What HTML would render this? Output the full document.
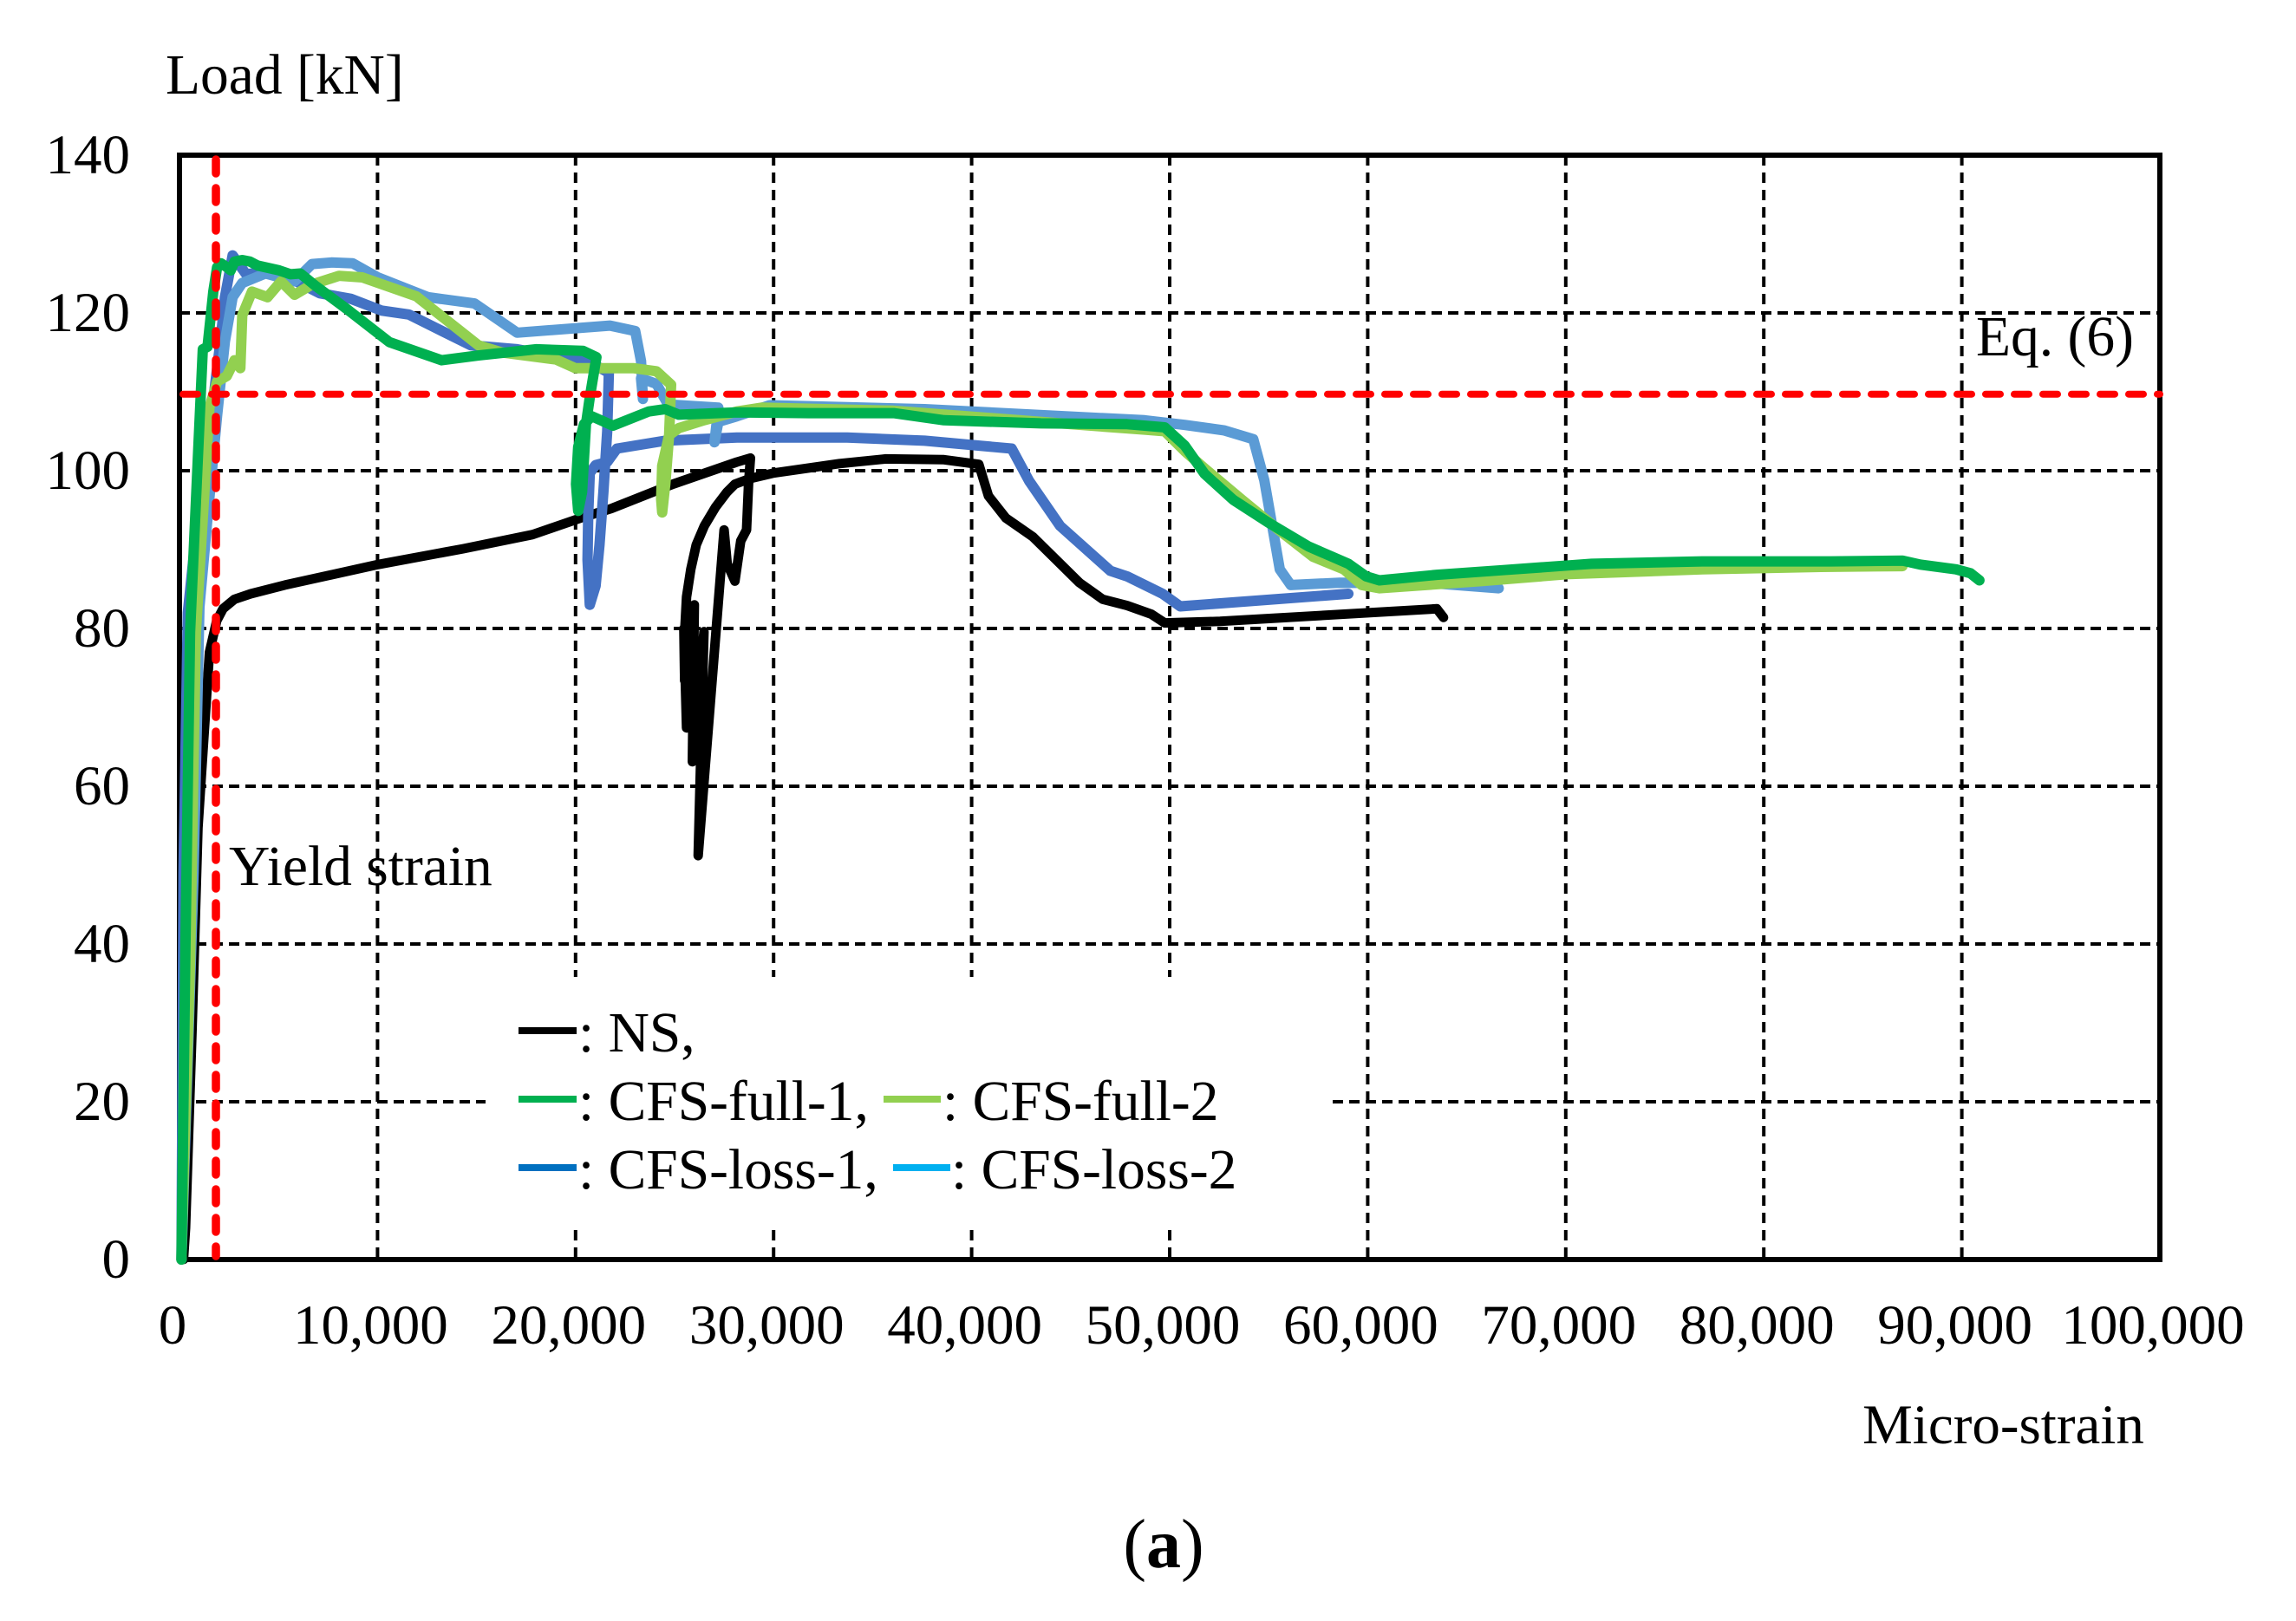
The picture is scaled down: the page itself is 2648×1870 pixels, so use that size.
<!DOCTYPE html>
<html lang="en">
<head>
<meta charset="utf-8">
<title>Load versus micro-strain chart</title>
<style>
html,body{margin:0;padding:0;background:#fff;}
svg{display:block;}
text{font-family:"Liberation Serif",serif;fill:#000;}
</style>
</head>
<body>
<svg id="chart" xmlns="http://www.w3.org/2000/svg" width="2648" height="1870" viewBox="0 0 2648 1870">
<rect x="0" y="0" width="2648" height="1870" fill="#fff"/>
<g id="grid"></g>
<rect x="560" y="1127" width="975" height="285" fill="#fff"/>
<rect x="207" y="179" width="2284" height="1274" fill="none" stroke="#000" stroke-width="6"/>
<g id="series"></g>
<g id="refs"></g>
<g id="ticks"></g>
<text x="191" y="108" font-size="65.5">Load [kN]</text>
<text x="2148" y="1665" font-size="65">Micro-strain</text>
<text x="264" y="1021" font-size="65.5">Yield strain</text>
<text x="2279" y="410" font-size="65.5">Eq. (6)</text>
<text x="1342" y="1808" font-size="80" text-anchor="middle">(<tspan font-weight="bold">a</tspan>)</text>
<g>
<rect x="598" y="1185" width="67" height="8" fill="#000"/>
<text x="667" y="1213" font-size="65.5">: NS,</text>
<rect x="598" y="1264" width="67" height="8" fill="#00B050"/>
<text x="667" y="1292" font-size="65.5">: CFS-full-1,</text>
<rect x="1019" y="1264" width="66" height="8" fill="#92D050"/>
<text x="1087" y="1292" font-size="65.5">: CFS-full-2</text>
<rect x="598" y="1343" width="67" height="8" fill="#0070C0"/>
<text x="667" y="1371" font-size="65.5">: CFS-loss-1,</text>
<rect x="1030" y="1343" width="66" height="8" fill="#00B0F0"/>
<text x="1097" y="1371" font-size="65.5">: CFS-loss-2</text>
</g>
</svg>
<script>
const xTicks = [0,10000,20000,30000,40000,50000,60000,70000,80000,90000,100000];
const xTickLabels = ['0','10,000','20,000','30,000','40,000','50,000','60,000','70,000','80,000','90,000','100,000'];
const yTicks = [0,20,40,60,80,100,120,140];
const yTickLabels = ['0','20','40','60','80','100','120','140'];
const yieldStrain = 1840;
const eq6Load = 109.7;

const nsStrain = [200,305,641,933,1224,1516,1881,2200,2781,3600,5322,10013,14312,17831,20372,21795,24922,28150,28831,28733,28636,28342,28049,27658,27502,26192,26486,25899,25997,25606,25469,25508,25500,25606,25820,26095,26500,27072,27650,28049,28800,30004,33326,35672,38603,40362,40851,41731,43099,45444,46617,47852,49081,49751,52543,63490,63825];
const nsLoad = [0,4,29.5,54.7,66,77,81,82.5,83.7,84.4,85.5,88.1,90.1,91.9,94.1,95.2,98.3,101.1,101.6,98.3,92.5,91.1,86,88.2,92.5,51.2,79.6,63.1,83,67.4,80,73.4,79,84,87.5,90.6,93,95.4,97.3,98.3,99,99.7,100.9,101.5,101.4,100.8,96.8,94,91.6,85.8,83.7,82.9,81.8,80.7,80.9,82.5,81.4];

const full1Strain = [100,300,534,924,1178,1413,1706,1900,2097,2390,2586,2781,3172,3563,3954,5029,5615,6104,6886,8449,10600,13237,15094,18026,20372,21056,20720,20524,20329,20133,20020,20133,20426,20817,21892,23695,24531,25215,28150,31763,36062,38604,43490,47852,49751,50756,51761,53214,55001,57011,59022,59916,60586,63490,66841,70192,71309,76894,83381,87000,87904,89713,90436,90888];
const full1Load = [0,40,79.5,101.4,115.4,115.7,122.7,125.8,126.3,125.8,125.4,126.5,126.7,126.5,126,125.4,124.9,125,123.4,120.5,116.3,114,114.6,115.4,115.2,114.4,109.3,105.9,97.3,94.9,98.3,103,105.9,106.9,105.7,107.5,107.8,107.1,107.4,107.3,107.3,106.4,106,105.9,105.5,103.2,99.6,96.3,93.4,90.4,88.2,86.6,86.1,86.8,87.4,88,88.2,88.5,88.5,88.6,88.1,87.5,87,86.1];

const full2Strain = [100,130,539,827,1315,1510,1902,2390,2781,3074,3172,3661,4442,5127,5810,6690,8058,9231,11967,15094,16267,19004,19981,22912,24084,24824,24726,24531,24375,24320,24375,24726,25215,26485,28150,29417,36063,48728,49751,50756,51761,53660,55447,57235,58798,59692,60586,65724,70192,76894,82881,87000];
const full2Load = [0,4,38,79.5,99.6,108,111.3,112,114,113,119.7,122.7,122,124,122.3,123.6,124.7,124.5,122.1,115.9,115,114.1,113,113,112.6,110.9,104.5,98.3,94.7,96.4,100.6,104.5,105.4,106.4,107.5,108,107.6,105.2,105,102.5,100.3,96.3,92.6,89.1,87.5,85.5,85.1,86,86.9,87.5,87.8,87.9];

const loss1Strain = [100,203,422,1000,1510,2097,2293,2683,3367,4247,5908,7081,8645,10208,11576,14704,17049,20763,21680,21599,21404,21208,21013,20720,20606,20640,20720,21013,21599,22088,24531,28150,33717,37626,42024,42903,44467,47008,47852,49639,50533,59022];
const loss1Load = [0,49,82,96,105,117,122,127.3,124.9,125.2,124,122.5,121.8,120.3,119.8,115.9,115.4,113.7,112.4,105,97.3,90.6,85.4,83,88.7,94.4,99.7,100.7,101.1,102.8,103.8,104.2,104.2,103.8,102.8,98.7,93,87.3,86.6,84.4,82.8,84.4];

const loss2Strain = [100,714,1006,1413,1902,2293,2683,3172,4345,5810,6690,7667,8742,10012,12553,14899,17049,21740,23011,23304,23402,23304,24084,24672,27211,27016,27211,28150,29808,37626,48728,50756,52767,54219,54777,55559,56118,58575,63490,66617];
const loss2Load = [0,49,82.7,94,107,116.4,122,123.8,125,124,126.2,126.4,126.3,124.5,122,121.2,117.5,118.4,117.7,113.9,109.1,111.7,111,108.4,108,103.6,106.2,106.9,108.3,107.8,106.4,105.8,105.1,104,98.8,87.5,85.5,85.8,85.7,85.1];

const NS = 'http://www.w3.org/2000/svg';
const plotLeft = 207, plotRight = 2491, plotTop = 179, plotBottom = 1453;
const xMax = 100000, yMax = 140;
function xScale(v){ return plotLeft + (v / xMax) * (plotRight - plotLeft); }
function yScale(v){ return plotBottom - (v / yMax) * (plotBottom - plotTop); }
function make(tag, parent){
  const el = document.createElementNS(NS, tag);
  parent.appendChild(el);
  return el;
}
const gridGroup = document.getElementById('grid');
const tickGroup = document.getElementById('ticks');
const seriesGroup = document.getElementById('series');
const refGroup = document.getElementById('refs');

xTicks.forEach(function(t, i){
  if (t > 0 && t < xMax) {
    const g = make('line', gridGroup);
    
    
    g.setAttribute('x1', xScale(t)); g.setAttribute('x2', xScale(t));
    g.setAttribute('y1', plotTop); g.setAttribute('y2', plotBottom);
    g.setAttribute('stroke', '#000'); g.setAttribute('stroke-width', '4');
    g.setAttribute('stroke-dasharray', '12 8');
  }
  const l = make('text', tickGroup);
  
  
  l.setAttribute('x', xScale(t) - 8);
  l.setAttribute('y', 1550);
  l.setAttribute('font-size', '65');
  l.setAttribute('text-anchor', 'middle');
  l.textContent = xTickLabels[i];
});
yTicks.forEach(function(t, i){
  if (t > 0 && t < yMax) {
    const g = make('line', gridGroup);
    
    
    g.setAttribute('x1', plotLeft); g.setAttribute('x2', plotRight);
    g.setAttribute('y1', yScale(t)); g.setAttribute('y2', yScale(t));
    g.setAttribute('stroke', '#000'); g.setAttribute('stroke-width', '4');
    g.setAttribute('stroke-dasharray', '12 7');
  }
  const l = make('text', tickGroup);
  
  
  l.setAttribute('x', 150);
  l.setAttribute('y', yScale(t) + 21);
  l.setAttribute('font-size', '65');
  l.setAttribute('text-anchor', 'end');
  l.textContent = yTickLabels[i];
});

function drawSeries(name, xs, ys, color, width){
  const p = make('polyline', seriesGroup);
  
  
  p.setAttribute('points', xs.map(function(x, i){ return xScale(x).toFixed(1) + ',' + yScale(ys[i]).toFixed(1); }).join(' '));
  p.setAttribute('fill', 'none');
  p.setAttribute('stroke', color);
  p.setAttribute('stroke-width', width);
  p.setAttribute('stroke-linejoin', 'round');
  p.setAttribute('stroke-linecap', 'round');
}
drawSeries('series-ns', nsStrain, nsLoad, '#000000', 11);
drawSeries('series-cfs-loss-1', loss1Strain, loss1Load, '#4472C4', 12);
drawSeries('series-cfs-loss-2', loss2Strain, loss2Load, '#5B9BD5', 12);
drawSeries('series-cfs-full-2', full2Strain, full2Load, '#92D050', 12);
drawSeries('series-cfs-full-1', full1Strain, full1Load, '#00B050', 12);

const hRef = make('line', refGroup);


hRef.setAttribute('x1', plotLeft + 4); hRef.setAttribute('x2', plotRight);
hRef.setAttribute('y1', yScale(eq6Load)); hRef.setAttribute('y2', yScale(eq6Load));
hRef.setAttribute('stroke', '#FF0000'); hRef.setAttribute('stroke-width', '8');
hRef.setAttribute('stroke-linecap', 'round'); hRef.setAttribute('stroke-dasharray', '17 16');

const vRef = make('line', refGroup);


vRef.setAttribute('x1', xScale(yieldStrain)); vRef.setAttribute('x2', xScale(yieldStrain));
vRef.setAttribute('y1', plotTop + 5); vRef.setAttribute('y2', plotBottom - 4);
vRef.setAttribute('stroke', '#FF0000'); vRef.setAttribute('stroke-width', '9.5');
vRef.setAttribute('stroke-linecap', 'round'); vRef.setAttribute('stroke-dasharray', '16 17');
</script>
</body>
</html>
